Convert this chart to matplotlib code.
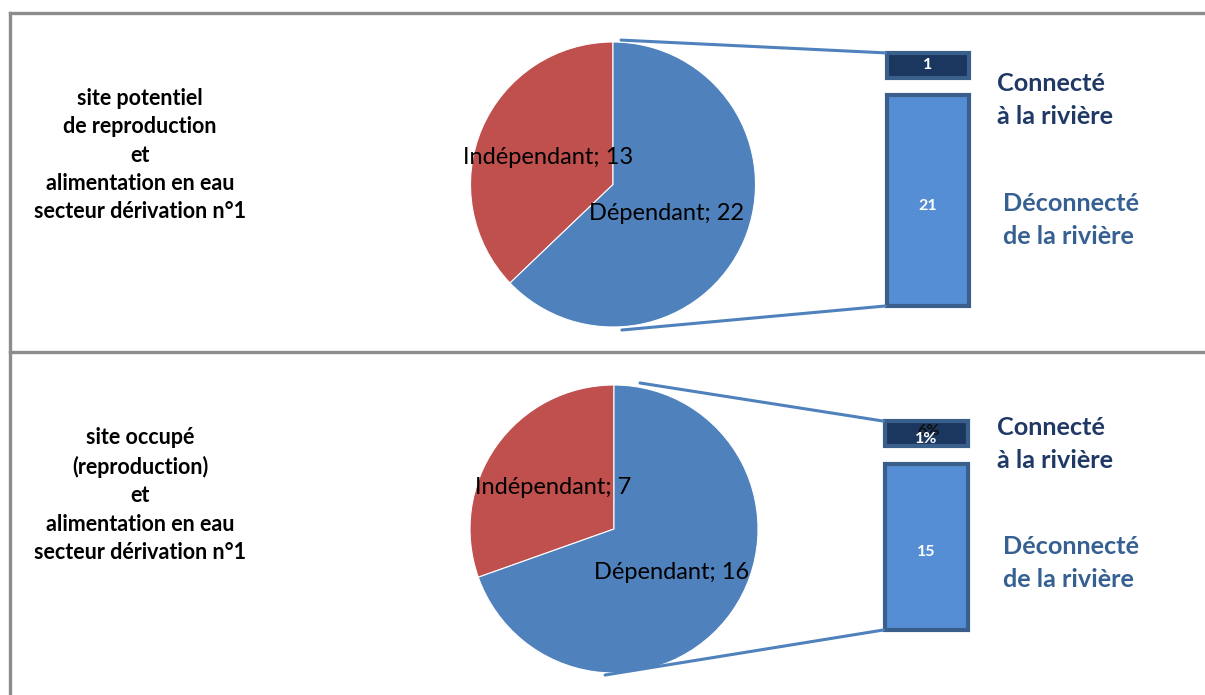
import numpy as np
import matplotlib.pyplot as plt
from matplotlib.lines import Line2D
from matplotlib.patches import ConnectionPatch

plt.rcParams['font.family'] = ['Lato', 'DejaVu Sans']

# Données : une ligne par panneau
titres = [
    "site potentiel\nde reproduction\net\nalimentation en eau\nsecteur dérivation n°1",
    "site occupé\n(reproduction)\net\nalimentation en eau\nsecteur dérivation n°1",
]
categories = ["Indépendant", "Dépendant"]
independant = [13, 7]
dependant = [22, 16]
# décomposition de la part "Dépendant"
deconnecte = [21, 15]
connecte = [1, 1]
etiquettes_connecte = [["1"], ["6%", "1%"]]

W, H = 1205, 695
fig = plt.figure(figsize=(W / 100, H / 100), dpi=100)

def fx(px):
    return px / W

def fy(py):
    return 1 - py / H

# cadre gris
gris = "#8c8c8c"
for x0, y0, x1, y1 in [(10, 13, W, 13), (10, 352, W, 352), (10, 13, 10, H)]:
    fig.add_artist(Line2D([fx(x0), fx(x1)], [fy(y0), fy(y1)], color=gris, lw=2.4))

bleu = "#4f81bd"
rouge = "#c0504d"
bleu_barre = "#558ed5"
marine = "#1c375f"
bord = "#3a5f8b"

# géométrie de chaque panneau (pixels)
panneaux = [
    dict(titre_y=155, cx=613, cy=184.5, r=142.5,
         lab_ind=(-0.456, 0.186), lab_dep=(0.372, -0.207),
         bx0=887, bx1=969, bas=306, haut=50,
         lien_haut=(86.8, 1.015), lien_bas=(-86.5, 1.023),
         txt_c=(997, 100), txt_d=(1003, 220)),
    dict(titre_y=495, cx=614, cy=529, r=144,
         lab_ind=(-0.424, 0.285), lab_dep=(0.403, -0.299),
         bx0=885, bx1=968, bas=630, haut=400,
         lien_haut=(79.9, 1.03), lien_bas=(266.5, 1.016),
         txt_c=(997, 444), txt_d=(1003, 563)),
]

px_unite = 25.0   # pixels par unité (échelle puissance 0.7)
puissance = 0.7
ecart = 0.7

for i, p in enumerate(panneaux):
    # titre à gauche
    fig.text(fx(140), fy(p["titre_y"]), titres[i], ha="center", va="center",
             fontsize=15.5, fontweight="bold", linespacing=1.43, color="black")

    # camembert
    axp = fig.add_axes([fx(p["cx"] - p["r"]), fy(p["cy"] + p["r"]),
                        2 * p["r"] / W, 2 * p["r"] / H])
    vals = [independant[i], dependant[i]]
    axp.pie(vals, colors=[rouge, bleu], startangle=90, counterclock=True,
            wedgeprops=dict(linewidth=0.8, edgecolor="white"))
    axp.set_xlim(-1, 1)
    axp.set_ylim(-1, 1)
    axp.set_aspect("auto")
    axp.text(*p["lab_ind"], f"{categories[0]}; {independant[i]}", ha="center",
             va="center", fontsize=17)
    axp.text(*p["lab_dep"], f"{categories[1]}; {dependant[i]}", ha="center",
             va="center", fontsize=17)

    # barre empilée (échelle compressée)
    hauteur_px = p["bas"] - p["haut"]
    axb = fig.add_axes([fx(p["bx0"]), fy(p["bas"]), (p["bx1"] - p["bx0"]) / W,
                        hauteur_px / H])
    h_dec = deconnecte[i] ** puissance
    h_con = connecte[i] ** puissance
    axb.bar(0, h_dec, width=1, color=bleu_barre, edgecolor=bord, linewidth=3,
            clip_on=False)
    axb.bar(0, h_con, bottom=h_dec + ecart, width=1, color=marine, edgecolor=bord,
            linewidth=3, clip_on=False)
    axb.set_xlim(-0.5, 0.5)
    axb.set_ylim(0, hauteur_px / px_unite)
    axb.axis("off")
    axb.text(0, h_dec / 2 - 0.2, str(deconnecte[i]), ha="center", va="center",
             color="white", fontsize=11.5, fontweight="bold")
    labs = etiquettes_connecte[i]
    if len(labs) == 1:
        axb.text(0, h_dec + ecart + h_con / 2, labs[0], ha="center", va="center",
                 color="white", fontsize=11.5, fontweight="bold")
    else:
        axb.text(0.03, h_dec + ecart + h_con * 0.6, labs[0], ha="center",
                 va="center", color="#0d0d0d", fontsize=11.5, fontweight="bold")
        axb.text(0, h_dec + ecart + h_con * 0.3, labs[1], ha="center",
                 va="center", color="white", fontsize=11.5, fontweight="bold")

    # lignes de liaison camembert -> barre
    a1, k1 = p["lien_haut"]
    a2, k2 = p["lien_bas"]
    for (a, k), yb in [((a1, k1), h_dec + ecart + h_con), ((a2, k2), 0)]:
        xa = k * np.cos(np.radians(a))
        ya = k * np.sin(np.radians(a))
        fig.add_artist(ConnectionPatch((xa, ya), (-0.52, yb), coordsA=axp.transData,
                                       coordsB=axb.transData, color=bleu, lw=2.2))

    # textes de droite
    fig.text(fx(p["txt_c"][0]), fy(p["txt_c"][1]), "Connecté\nà la rivière",
             ha="left", va="center", fontsize=18.2, fontweight="bold",
             color="#1f3864", linespacing=1.48)
    fig.text(fx(p["txt_d"][0]), fy(p["txt_d"][1]), "Déconnecté\nde la rivière",
             ha="left", va="center", fontsize=18.2, fontweight="bold",
             color="#366092", linespacing=1.48)

fig.savefig("out.png", dpi=100)
